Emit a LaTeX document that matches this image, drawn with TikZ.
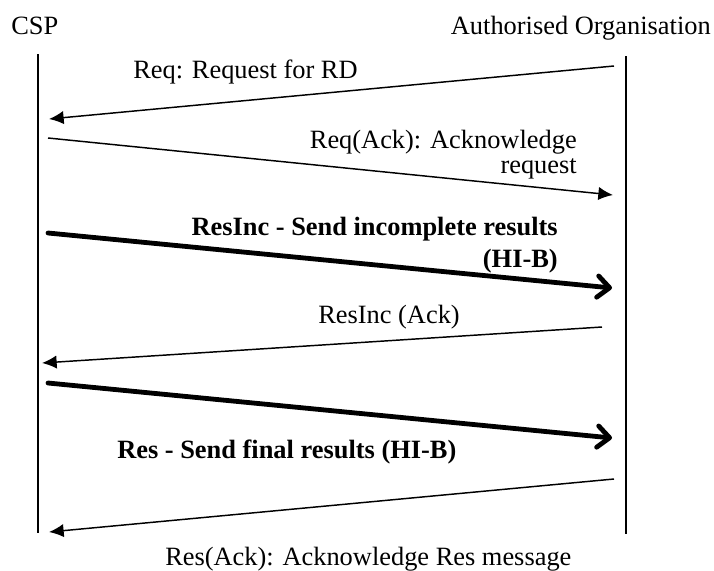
\documentclass[tikz,border=0pt]{standalone}
\usepackage{fontspec}
\setmainfont{Liberation Serif}
\usetikzlibrary{arrows.meta}

\begin{document}
\begin{tikzpicture}[
    x=0.75pt,
    y=-0.75pt,
    font=\fontsize{19.8}{24}\selectfont,
    lifeline/.style={line width=1.1pt},
    msg/.style={-{Latex[length=11pt,width=10pt]}, line width=1.1pt},
    bulk/.style={
        -{Straight Barb[length=9pt,width=16pt,line width=3.6pt,line cap=round,line join=round]},
        line width=3.6pt,
        line cap=round
    },
    msgtext/.style={inner sep=0pt},
    twoline/.style={msgtext, align=right}
]
\useasboundingbox (0,0) rectangle (714,571);

% Parties and their lifelines.
\node[msgtext, anchor=base west] (csp) at (11,34) {CSP};
\node[msgtext, anchor=base east] (org) at (711,34) {Authorised Organisation};

\coordinate (csp top) at (38,54);
\coordinate (csp bottom) at (38,533);
\coordinate (org top) at (626,56);
\coordinate (org bottom) at (626,534);
\draw[lifeline] (csp top) -- (csp bottom);
\draw[lifeline] (org top) -- (org bottom);

% Message end points, a little off the lifelines.
\coordinate (req from) at (614,66);
\coordinate (req to) at (49,119);
\coordinate (reqack from) at (48,138);
\coordinate (reqack to) at (613,195);
\coordinate (resinc from) at (48,233);
\coordinate (resinc to) at (612,288);
\coordinate (resincack from) at (602,327);
\coordinate (resincack to) at (42,363);
\coordinate (res from) at (48,383);
\coordinate (res to) at (612,438);
\coordinate (resack from) at (614,479);
\coordinate (resack to) at (49,532);

% Request and its acknowledgement.
\draw[msg] (req from) -- (req to);
\node[msgtext, anchor=base west] (reqtext) at (133,78) {Req: Request for RD};

\draw[msg] (reqack from) -- (reqack to);
\node[twoline, anchor=base east, font=\fontsize{19.8}{18.75}\selectfont]
    (reqacktext) at (577,173) {Req(Ack): Acknowledge\\request};

% Incomplete results.
\draw[bulk] (resinc from) -- (resinc to);
\node[twoline, anchor=base east, font=\fontsize{19.8}{24}\selectfont\bfseries]
    (resinctext) at (558,267) {ResInc - Send incomplete results\\(HI-B)};

\draw[msg] (resincack from) -- (resincack to);
\node[msgtext, anchor=base west] (resincacktext) at (318,323) {ResInc (Ack)};

% Final results.
\draw[bulk] (res from) -- (res to);
\node[msgtext, anchor=base west, font=\fontsize{19.8}{24}\selectfont\bfseries]
    (restext) at (117,458) {Res - Send final results (HI-B)};

\draw[msg] (resack from) -- (resack to);
\node[msgtext, anchor=base west] (resacktext) at (165,565) {Res(Ack): Acknowledge Res message};

\end{tikzpicture}
\end{document}
